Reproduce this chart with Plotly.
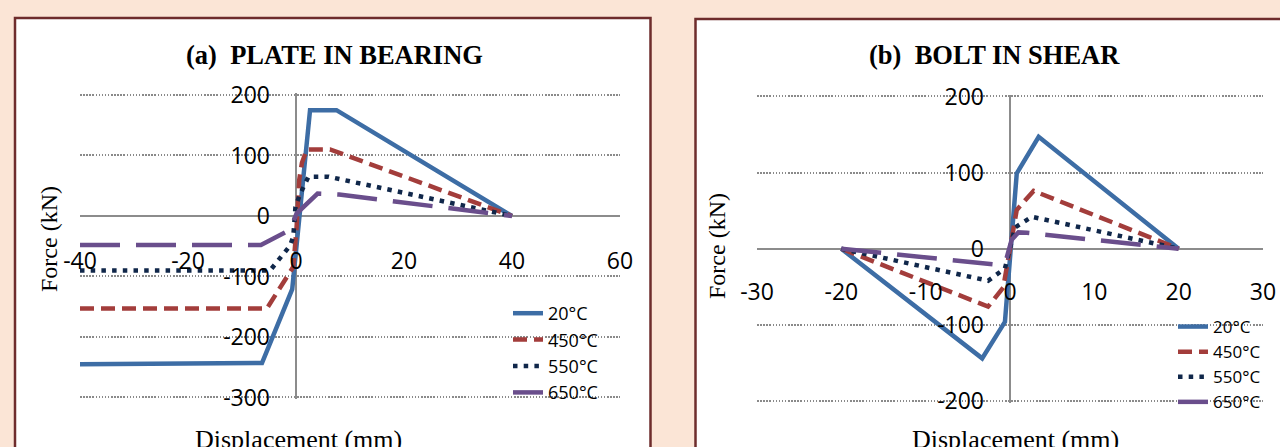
import plotly.graph_objects as go

# ---------------- data ----------------
temps = ["20°C", "450°C", "550°C", "650°C"]

# (a) plate in bearing
a_disp_20 = [-40, -6.3, -0.7, 2.6, 7.5, 40]
a_force_20 = [-245, -243, -121, 175, 175, 0]
a_disp_450 = [-40, -5.4, -0.5, 0.1, 0.6, 1.1, 2.0, 6.3, 40]
a_force_450 = [-153, -153, -84, -20, 60, 88, 110, 110, 0]
a_disp_550 = [-40, -4.8, -1.1, -0.5, -0.1, 0.7, 2.3, 6.0, 40]
a_force_550 = [-90, -90, -49, -34, 15, 35, 65, 65, 0]
a_disp_650 = [-40, -6.5, -1.1, 0.1, 4.0, 8.0, 40]
a_force_650 = [-48, -48, -23, 4, 37, 35.5, 0]

# (b) bolt in shear
b_disp_20 = [-20, -3.3, -0.6, 0.8, 3.4, 20]
b_force_20 = [0, -144, -96, 99, 147, 0]
b_disp_450 = [-20, -2.6, -0.8, 0.8, 2.8, 20]
b_force_450 = [0, -76, -51, 51, 76, 0]
b_disp_550 = [-20, -2.6, -0.6, 0.6, 2.6, 20]
b_force_550 = [0, -42, -26, 28, 42, 0]
b_disp_650 = [-20, -1.6, -0.4, 0.2, 1.0, 2.0, 20]
b_force_650 = [0, -21, -12, 12, 21.5, 21, 0]

a_xticks = [-40, -20, 0, 20, 40, 60]
a_xlabels = ["-40", "-20", "0", "20", "40", "60"]
a_yticks = [-300, -200, -100, 0, 100, 200]
a_ylabels = ["-300", "-200", "-100", "0", "100", "200"]
b_xticks = [-30, -20, -10, 0, 10, 20, 30]
b_xlabels = ["-30", "-20", "-10", "0", "10", "20", "30"]
b_yticks = [-200, -100, 0, 100, 200]
b_ylabels = ["-200", "-100", "0", "100", "200"]

# ---------------- styles ----------------
W, H = 1280, 447
BG = "#FBE5D6"
colors = ["#3D6DA5", "#A33D3B", "#10274A", "#6A4E8C"]
dashes = ["solid", "14px,7px", "4.5px,6.2px", "40px,16px"]
LW = 4.5

SERIF = "Liberation Serif"
SANS = "Open Sans"


def px_x(p):
    return p / W


def px_y(p):
    return 1 - p / H


fig = go.Figure()

a_sets = [(a_disp_20, a_force_20), (a_disp_450, a_force_450),
          (a_disp_550, a_force_550), (a_disp_650, a_force_650)]
b_sets = [(b_disp_20, b_force_20), (b_disp_450, b_force_450),
          (b_disp_550, b_force_550), (b_disp_650, b_force_650)]

for i, (xs, ys) in enumerate(a_sets):
    fig.add_trace(go.Scatter(x=xs, y=ys, mode="lines", name=temps[i],
                             line=dict(color=colors[i], width=LW, dash=dashes[i]),
                             xaxis="x", yaxis="y", legend="legend"))
for i, (xs, ys) in enumerate(b_sets):
    fig.add_trace(go.Scatter(x=xs, y=ys, mode="lines", name=temps[i],
                             line=dict(color=colors[i], width=LW, dash=dashes[i]),
                             xaxis="x2", yaxis="y2", legend="legend2"))

# ---- panel (a) geometry (pixels) ----
a_xl, a_xr = 80, 620          # x=-40 .. x=60
a_yt, a_yb = 95, 397.5        # F=200 .. F=-300
a_ext = 2.5                   # small range padding so end gridlines are drawn
a_sy = (a_yb - a_yt) / 500
ay_dom = [px_y(a_yb + a_ext * a_sy), px_y(a_yt - a_ext * a_sy)]
ax_dom = [px_x(a_xl), px_x(a_xr)]
a_xpos = px_y(a_yt + 200 * a_sy)
a_ypos = px_x(a_xl + 40 * (a_xr - a_xl) / 100)

# ---- panel (b) geometry ----
b_xl, b_xr = 757, 1263        # x=-30 .. 30
b_yt, b_yb = 96.5, 401        # F=200 .. -200
b_ext = 2.0
b_sy = (b_yb - b_yt) / 400
by_dom = [px_y(b_yb + b_ext * b_sy), px_y(b_yt - b_ext * b_sy)]
bx_dom = [px_x(b_xl), px_x(b_xr)]
b_xpos = px_y(b_yt + 200 * b_sy)
b_ypos = px_x((b_xl + b_xr) / 2)

tickfont = dict(family=SANS, size=23, color="#000000")
grid = dict(showgrid=True, gridcolor="#8A8A8A", gridwidth=1.5, griddash="1.5px,1.6px")
zl = dict(zeroline=True, zerolinecolor="#8C8C8C", zerolinewidth=2)
common = dict(ticks="", showline=False, automargin=False, tickfont=tickfont,
              tickmode="array", **zl)

fig.update_layout(
    width=W, height=H,
    margin=dict(l=0, r=0, t=0, b=0, pad=0, autoexpand=False),
    paper_bgcolor=BG,
    plot_bgcolor="#FFFFFF",
    showlegend=True,
    xaxis=dict(domain=ax_dom, range=[-40, 60], anchor="free", position=a_xpos,
               tickvals=a_xticks, ticktext=a_xlabels, ticklabelstandoff=29,
               showgrid=False, **common),
    yaxis=dict(domain=ay_dom, range=[-300 - a_ext, 200 + a_ext], anchor="free",
               position=a_ypos, tickvals=a_yticks, ticktext=a_ylabels,
               ticklabelstandoff=26, **grid, **common),
    xaxis2=dict(domain=bx_dom, range=[-30, 30], anchor="free", position=b_xpos,
                tickvals=b_xticks, ticktext=b_xlabels, ticklabelstandoff=27,
                showgrid=False, **common),
    yaxis2=dict(domain=by_dom, range=[-200 - b_ext, 200 + b_ext], anchor="free",
                position=b_ypos, tickvals=b_yticks, ticktext=b_ylabels,
                ticklabelstandoff=26, **grid, **common),
    legend=dict(x=px_x(508), y=px_y(295), xanchor="left", yanchor="top",
                bgcolor="rgba(0,0,0,0)", borderwidth=0, tracegroupgap=0,
                font=dict(family=SANS, size=18, color="#000000")),
    legend2=dict(x=px_x(1173), y=px_y(309), xanchor="left", yanchor="top",
                 bgcolor="rgba(0,0,0,0)", borderwidth=0, tracegroupgap=0,
                 font=dict(family=SANS, size=17, color="#000000")),
    shapes=[
        dict(type="rect", xref="paper", yref="paper", x0=px_x(15), x1=px_x(650.5),
             y0=px_y(470), y1=px_y(18), line=dict(color="#6E2C2C", width=2.5),
             fillcolor="#FFFFFF", layer="below"),
        dict(type="rect", xref="paper", yref="paper", x0=px_x(695.5), x1=px_x(1300),
             y0=px_y(470), y1=px_y(19), line=dict(color="#6E2C2C", width=2.5),
             fillcolor="#FFFFFF", layer="below"),
    ],
    annotations=[
        dict(text="<b>(a)\u00a0 PLATE IN BEARING</b>", x=px_x(334), y=px_y(55),
             xref="paper", yref="paper", showarrow=False, xanchor="center", yanchor="middle",
             font=dict(family=SERIF, size=26.5, color="#000000")),
        dict(text="<b>(b)\u00a0 BOLT IN SHEAR</b>", x=px_x(994), y=px_y(55),
             xref="paper", yref="paper", showarrow=False, xanchor="center", yanchor="middle",
             font=dict(family=SERIF, size=26.5, color="#000000")),
        dict(text="Force (kN)", x=px_x(49), y=px_y(239), textangle=-90,
             xref="paper", yref="paper", showarrow=False, xanchor="center", yanchor="middle",
             font=dict(family=SERIF, size=24, color="#000000")),
        dict(text="Force (kN)", x=px_x(717), y=px_y(246), textangle=-90,
             xref="paper", yref="paper", showarrow=False, xanchor="center", yanchor="middle",
             font=dict(family=SERIF, size=24, color="#000000")),
        dict(text="Displacement (mm)", x=px_x(298), y=px_y(423),
             xref="paper", yref="paper", showarrow=False, xanchor="center", yanchor="top",
             font=dict(family=SERIF, size=26, color="#000000")),
        dict(text="Displacement (mm)", x=px_x(1015), y=px_y(423),
             xref="paper", yref="paper", showarrow=False, xanchor="center", yanchor="top",
             font=dict(family=SERIF, size=26, color="#000000")),
    ],
)

fig.write_html(
    "out.html",
    config={"displayModeBar": False},
    post_script="document.body.style.margin='0';document.body.style.background='%s';" % BG,
)
